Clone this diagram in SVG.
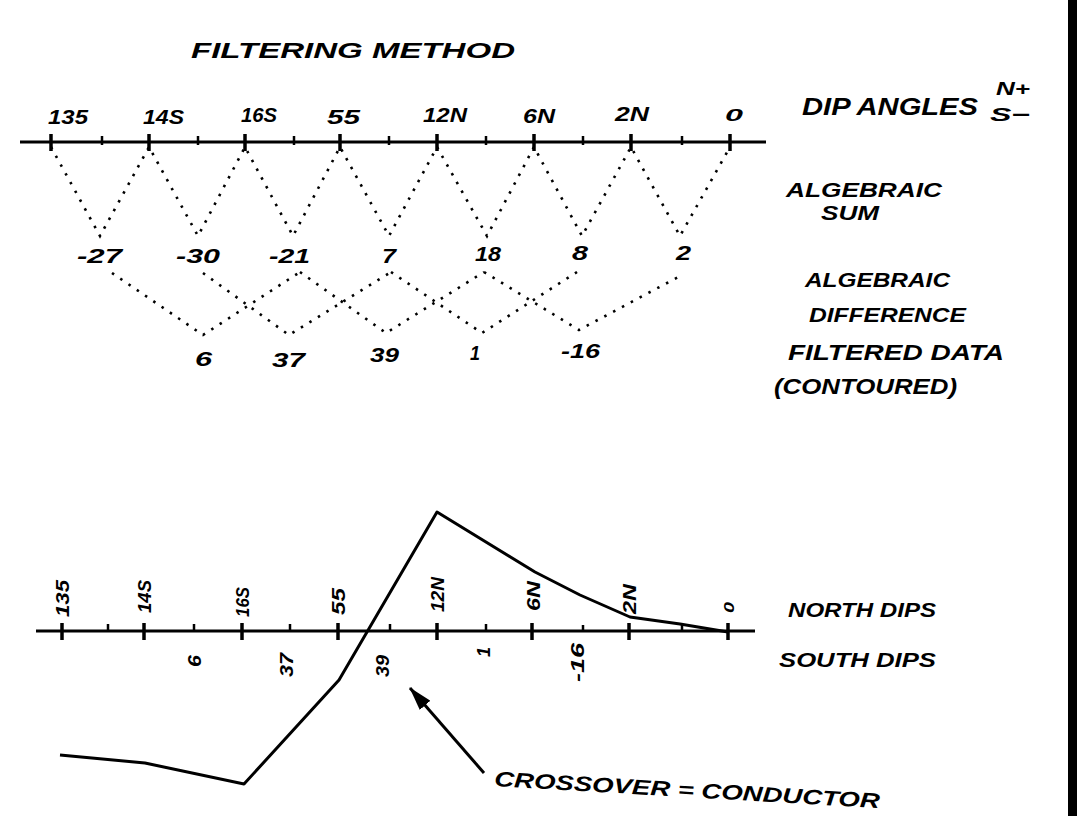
<svg xmlns="http://www.w3.org/2000/svg" width="1077" height="816" viewBox="0 0 1077 816">
<style>
.t{font-family:"Liberation Sans",Arial,sans-serif;font-style:italic;font-weight:bold;fill:#000}
.ax{stroke:#000;stroke-width:3;fill:none}
.tk{stroke:#000;stroke-width:3.5}
.mt{stroke:#000;stroke-width:2.5}
.dot{stroke:#000;stroke-width:2.6;stroke-dasharray:2.5 7.5;fill:none}
.ln{stroke:#000;stroke-width:3;fill:none;stroke-linejoin:round}
</style>
<defs>
<marker id="ah" markerWidth="10" markerHeight="8" refX="9" refY="4" orient="auto" markerUnits="userSpaceOnUse" viewBox="0 0 10 8">
<path d="M0,0 L10,4 L0,8 z" fill="#000"/>
</marker>
<marker id="ah2" viewBox="0 0 24 14" refX="23" refY="7" markerWidth="24" markerHeight="14" orient="auto" markerUnits="userSpaceOnUse">
<path d="M0,0 L24,7 L0,14 z" fill="#000"/>
</marker>
</defs>
<rect width="1077" height="816" fill="#fff"/>
<rect x="1068" y="0" width="9" height="816" fill="#000"/>

<g id="title">
<text class="t" x="191" y="58" font-size="22" textLength="324" lengthAdjust="spacingAndGlyphs">FILTERING  METHOD</text>
</g>

<g id="top-axis">
<line class="ax" x1="20" y1="142" x2="766" y2="142"/>
<g class="tk">
<line x1="51" y1="134" x2="51" y2="151"/><line x1="149" y1="134" x2="149" y2="151"/><line x1="245" y1="134" x2="245" y2="151"/><line x1="340" y1="134" x2="340" y2="151"/><line x1="437" y1="134" x2="437" y2="151"/><line x1="534" y1="134" x2="534" y2="151"/><line x1="631" y1="134" x2="631" y2="151"/><line x1="730" y1="134" x2="730" y2="151"/>
</g>
<g class="mt">
<line x1="102" y1="136" x2="102" y2="145"/><line x1="198" y1="136" x2="198" y2="145"/><line x1="294" y1="136" x2="294" y2="145"/><line x1="389" y1="136" x2="389" y2="145"/><line x1="486" y1="136" x2="486" y2="145"/><line x1="583" y1="136" x2="583" y2="145"/><line x1="682" y1="136" x2="682" y2="145"/>
</g>
</g>

<g id="dip-angle-labels">
<text class="t" x="48" y="124" font-size="20" textLength="40" lengthAdjust="spacingAndGlyphs">135</text>
<text class="t" x="143" y="124" font-size="20" textLength="41" lengthAdjust="spacingAndGlyphs">14S</text>
<text class="t" x="241" y="122" font-size="20" textLength="36" lengthAdjust="spacingAndGlyphs">16S</text>
<text class="t" x="327" y="124" font-size="20" textLength="33" lengthAdjust="spacingAndGlyphs">55</text>
<text class="t" x="423" y="122" font-size="20" textLength="44" lengthAdjust="spacingAndGlyphs">12N</text>
<text class="t" x="523" y="123" font-size="20" textLength="32" lengthAdjust="spacingAndGlyphs">6N</text>
<text class="t" x="615" y="121" font-size="20" textLength="34" lengthAdjust="spacingAndGlyphs">2N</text>
<text class="t" x="725" y="121" font-size="17" textLength="18" lengthAdjust="spacingAndGlyphs">0</text>
</g>

<g id="sum-values">
<text class="t" x="77" y="263" font-size="20" textLength="45" lengthAdjust="spacingAndGlyphs">-27</text>
<text class="t" x="176" y="263" font-size="20" textLength="44" lengthAdjust="spacingAndGlyphs">-30</text>
<text class="t" x="269" y="263" font-size="20" textLength="41" lengthAdjust="spacingAndGlyphs">-21</text>
<text class="t" x="382" y="263" font-size="20" textLength="14" lengthAdjust="spacingAndGlyphs">7</text>
<text class="t" x="475" y="261" font-size="20" textLength="26" lengthAdjust="spacingAndGlyphs">18</text>
<text class="t" x="572" y="260" font-size="20" textLength="16" lengthAdjust="spacingAndGlyphs">8</text>
<text class="t" x="676" y="260" font-size="20" textLength="15" lengthAdjust="spacingAndGlyphs">2</text>
</g>

<g id="filtered-values">
<text class="t" x="195" y="366" font-size="20" textLength="17" lengthAdjust="spacingAndGlyphs">6</text>
<text class="t" x="272" y="367" font-size="20" textLength="33" lengthAdjust="spacingAndGlyphs">37</text>
<text class="t" x="370" y="362" font-size="20" textLength="29" lengthAdjust="spacingAndGlyphs">39</text>
<text class="t" x="470" y="360" font-size="20" textLength="10" lengthAdjust="spacingAndGlyphs">1</text>
<text class="t" x="561" y="358" font-size="20" textLength="39" lengthAdjust="spacingAndGlyphs">-16</text>
</g>

<g id="right-labels">
<text class="t" x="802" y="115" font-size="24" textLength="176" lengthAdjust="spacingAndGlyphs">DIP ANGLES</text>
<text class="t" x="996" y="95" font-size="19" textLength="34" lengthAdjust="spacingAndGlyphs">N+</text>
<text class="t" x="990" y="121" font-size="19" textLength="40" lengthAdjust="spacingAndGlyphs">S−</text>
<text class="t" x="786" y="197" font-size="20" textLength="156" lengthAdjust="spacingAndGlyphs">ALGEBRAIC</text>
<text class="t" x="821" y="220" font-size="20" textLength="58" lengthAdjust="spacingAndGlyphs">SUM</text>
<text class="t" x="805" y="287" font-size="20" textLength="145" lengthAdjust="spacingAndGlyphs">ALGEBRAIC</text>
<text class="t" x="809" y="322" font-size="20" textLength="157" lengthAdjust="spacingAndGlyphs">DIFFERENCE</text>
<text class="t" x="788" y="360" font-size="22" textLength="216" lengthAdjust="spacingAndGlyphs">FILTERED DATA</text>
<text class="t" x="774" y="394" font-size="22" textLength="183" lengthAdjust="spacingAndGlyphs">(CONTOURED)</text>
<text class="t" x="788" y="617" font-size="21" textLength="148" lengthAdjust="spacingAndGlyphs">NORTH DIPS</text>
<text class="t" x="779" y="667" font-size="21" textLength="157" lengthAdjust="spacingAndGlyphs">SOUTH   DIPS</text>
</g>

<g id="connectors">
<polyline class="dot" points="51,147 100,236 149,147 198,236 245,147 293,236 340,147 389,236 437,147 487,236 534,147 582,236 631,147 680,236 730,147"/>
<polyline class="dot" points="112,273 203,335 300,272"/>
<polyline class="dot" points="203,273 289,335 391,272"/>
<polyline class="dot" points="300,272 386,333 484,272"/>
<polyline class="dot" points="391,272 482,333 577,272"/>
<polyline class="dot" points="484,272 579,330 682,275"/>
</g>

<g id="bottom-axis">
<line class="ax" x1="36" y1="631" x2="755" y2="631"/>
<g class="tk">
<line x1="62" y1="623" x2="62" y2="640"/><line x1="144" y1="623" x2="144" y2="640"/><line x1="242" y1="623" x2="242" y2="640"/><line x1="338" y1="623" x2="338" y2="640"/><line x1="437" y1="623" x2="437" y2="640"/><line x1="532" y1="623" x2="532" y2="640"/><line x1="629" y1="623" x2="629" y2="640"/><line x1="728" y1="623" x2="728" y2="640"/>
</g>
<g class="mt">
<line x1="108" y1="624" x2="108" y2="631"/><line x1="194" y1="624" x2="194" y2="631"/><line x1="290" y1="624" x2="290" y2="631"/><line x1="390" y1="624" x2="390" y2="631"/><line x1="486" y1="624" x2="486" y2="631"/><line x1="583" y1="625" x2="583" y2="631"/><line x1="682" y1="625" x2="682" y2="631"/>
</g>
</g>

<g id="rotated-dip-labels">
<text class="t" font-size="18" transform="translate(69,617) rotate(-90)" textLength="37" lengthAdjust="spacingAndGlyphs">135</text>
<text class="t" font-size="18" transform="translate(151,613) rotate(-90)" textLength="33" lengthAdjust="spacingAndGlyphs">14S</text>
<text class="t" font-size="18" transform="translate(249,617) rotate(-90)" textLength="30" lengthAdjust="spacingAndGlyphs">16S</text>
<text class="t" font-size="18" transform="translate(345,615) rotate(-90)" textLength="27" lengthAdjust="spacingAndGlyphs">55</text>
<text class="t" font-size="18" transform="translate(444,612) rotate(-90)" textLength="35" lengthAdjust="spacingAndGlyphs">12N</text>
<text class="t" font-size="18" transform="translate(540,611) rotate(-90)" textLength="30" lengthAdjust="spacingAndGlyphs">6N</text>
<text class="t" font-size="18" transform="translate(636,614) rotate(-90)" textLength="30" lengthAdjust="spacingAndGlyphs">2N</text>
<text class="t" font-size="14" transform="translate(734,613) rotate(-90)" textLength="11" lengthAdjust="spacingAndGlyphs">0</text>
<text class="t" font-size="18" transform="translate(201,667) rotate(-90)" textLength="12" lengthAdjust="spacingAndGlyphs">6</text>
<text class="t" font-size="18" transform="translate(293,677) rotate(-90)" textLength="24" lengthAdjust="spacingAndGlyphs">37</text>
<text class="t" font-size="18" transform="translate(389,677) rotate(-90)" textLength="22" lengthAdjust="spacingAndGlyphs">39</text>
<text class="t" font-size="18" transform="translate(490,657) rotate(-90)" textLength="10" lengthAdjust="spacingAndGlyphs">1</text>
<text class="t" font-size="18" transform="translate(584,682) rotate(-90)" textLength="39" lengthAdjust="spacingAndGlyphs">-16</text>
</g>

<g id="profile">
<polyline class="ln" points="60,755 145,763 244,784 339,680 437,512 535,572 580,595 630,617 680,624 728,632"/>
</g>

<g id="crossover-arrow">
<line x1="484" y1="773" x2="410" y2="688" stroke="#000" stroke-width="3" marker-end="url(#ah2)"/>
<text class="t" font-size="21" transform="translate(494,786) rotate(3.3)" textLength="386" lengthAdjust="spacingAndGlyphs">CROSSOVER = CONDUCTOR</text>
</g>
</svg>
